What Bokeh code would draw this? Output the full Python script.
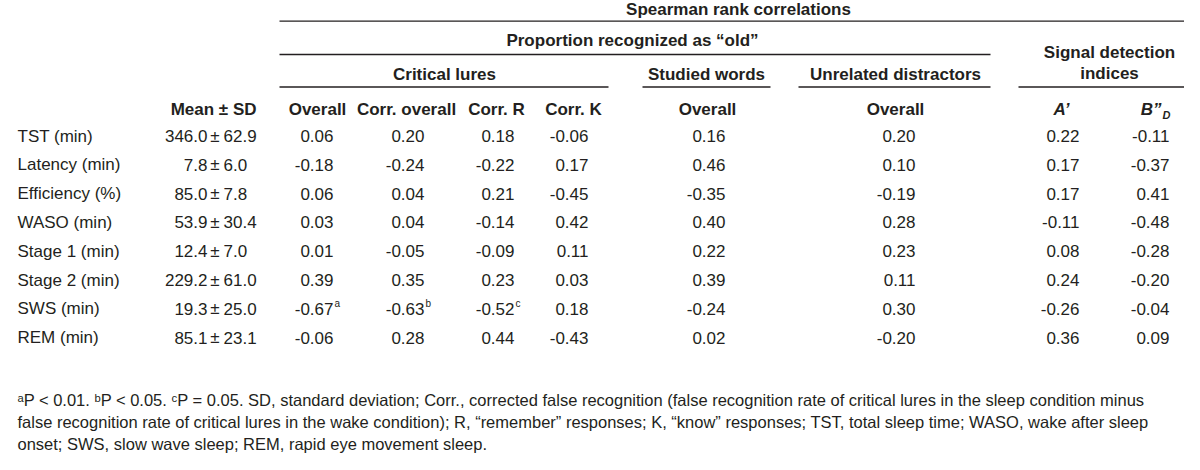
from bokeh.plotting import figure
from bokeh.models import Range1d, ColumnDataSource
from bokeh.core.properties import value
from bokeh.embed import file_html
from bokeh.resources import INLINE

# ---------------- data ----------------
row_labels = ["TST (min)", "Latency (min)", "Efficiency (%)", "WASO (min)",
              "Stage 1 (min)", "Stage 2 (min)", "SWS (min)", "REM (min)"]
mean_vals = [346.0, 7.8, 85.0, 53.9, 12.4, 229.2, 19.3, 85.1]
sd_vals = [62.9, 6.0, 7.8, 30.4, 7.0, 61.0, 25.0, 23.1]
crit_overall = [0.06, -0.18, 0.06, 0.03, 0.01, 0.39, -0.67, -0.06]
corr_overall = [0.20, -0.24, 0.04, 0.04, -0.05, 0.35, -0.63, 0.28]
corr_r = [0.18, -0.22, 0.21, -0.14, -0.09, 0.23, -0.52, 0.44]
corr_k = [-0.06, 0.17, -0.45, 0.42, 0.11, 0.03, 0.18, -0.43]
studied_overall = [0.16, 0.46, -0.35, 0.40, 0.22, 0.39, -0.24, 0.02]
unrelated_overall = [0.20, 0.10, -0.19, 0.28, 0.23, 0.11, 0.30, -0.20]
a_prime = [0.22, 0.17, 0.17, -0.11, 0.08, 0.24, -0.26, 0.36]
b_double_d = [-0.11, -0.37, 0.41, -0.48, -0.28, -0.20, -0.04, 0.09]
# significance marks (row index -> letter) for the three critical-lure columns
sig_crit_overall = {6: "a"}
sig_corr_overall = {6: "b"}
sig_corr_r = {6: "c"}

col_headers = ["Overall", "Corr. overall", "Corr. R", "Corr. K",
               "Overall", "Overall"]
footnotes = [
    "\u1d43P < 0.01. \u1d47P < 0.05. \u1d9cP = 0.05. SD, standard deviation; Corr., corrected false recognition (false recognition rate of critical lures in the sleep condition minus",
    "false recognition rate of critical lures in the wake condition); R, \u201cremember\u201d responses; K, \u201cknow\u201d responses; TST, total sleep time; WASO, wake after sleep",
    "onset; SWS, slow wave sleep; REM, rapid eye movement sleep.",
]

# ---------------- style / layout ----------------
FONT = "Liberation Sans"
FS = 17
INK = "#231f20"
ROW_Y0, ROW_STEP = 140, 29.3

p = figure(width=1184, height=454, output_backend="svg", toolbar_location=None,
           x_range=Range1d(0, 1184), y_range=Range1d(464, 2),
           x_axis_type=None, y_axis_type=None, min_border=0)
p.outline_line_color = None
p.grid.visible = False
p.background_fill_color = "white"


def add_text(xs, ys, texts, align="center", size=FS, style="normal"):
    src = ColumnDataSource(dict(x=list(xs), y=list(ys), t=list(texts)))
    p.text(x="x", y="y", text="t", source=src, text_align=align,
           text_baseline="middle", text_font=value(FONT),
           text_font_size=value(f"{size}px"), text_font_style=style,
           text_color=INK)


row_y = [ROW_Y0 + i * ROW_STEP for i in range(len(row_labels))]

# group headers
add_text([738], [11], ["Spearman rank correlations"], style="bold")
add_text([632], [43], ["Proportion recognized as \u201cold\u201d"], style="bold")
add_text([1109, 1109], [55, 76], ["Signal detection", "indices"], style="bold")
add_text([444, 706, 895], [77, 77, 77],
         ["Critical lures", "Studied words", "Unrelated distractors"], style="bold")

# rules
p.segment(x0=[279, 279, 279, 642, 798, 1018], x1=[1200, 990, 608, 770, 990, 1200],
          y0=[23, 57, 90, 90, 90, 90], y1=[23, 57, 90, 90, 90, 90],
          line_color=INK, line_width=1.4)

# column headers
add_text([256], [113], ["Mean \u00b1 SD"], align="right", style="bold")
add_text([317, 406, 496, 573, 707, 895], [113] * 6, col_headers, style="bold")
add_text([1061], [113], ["A\u2019"], style="bold italic")
add_text([1161], [113], ["B\u201d"], align="right", style="bold italic")
add_text([1162], [119], ["D"], align="left", size=11, style="bold italic")

# row labels
add_text([17] * len(row_labels), row_y, row_labels, align="left")

# mean ± SD, aligned on the ± sign
add_text([207] * len(mean_vals), row_y, [f"{m:.1f}" for m in mean_vals], align="right")
add_text([214.5] * len(mean_vals), row_y, ["\u00b1"] * len(mean_vals))
add_text([223] * len(sd_vals), row_y, [f"{s:.1f}" for s in sd_vals], align="left")

# correlation columns (right-aligned)
columns = [(crit_overall, 333, sig_crit_overall), (corr_overall, 424, sig_corr_overall),
           (corr_r, 514, sig_corr_r), (corr_k, 588, {}), (studied_overall, 725, {}),
           (unrelated_overall, 915, {}), (a_prime, 1079, {}), (b_double_d, 1169, {})]
for vals, xr, sig in columns:
    add_text([xr] * len(vals), row_y, [f"{v:.2f}" for v in vals], align="right")
    if sig:
        idx = list(sig.keys())
        add_text([xr + 1] * len(idx), [row_y[i] - 5 for i in idx],
                 [sig[i] for i in idx], align="left", size=10)

# footnotes
add_text([17] * 3, [409, 431, 453], footnotes, align="left", size=16.5)

open("out.html", "w").write(file_html(p, INLINE))
